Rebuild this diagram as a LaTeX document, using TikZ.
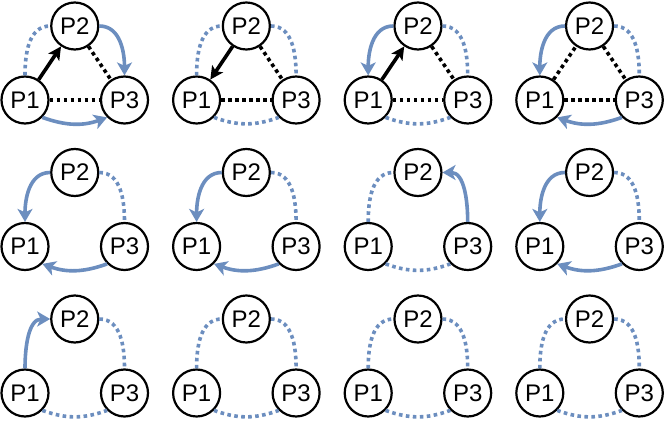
\documentclass[tikz,border=0pt]{standalone}
\usepackage{fontspec}
\setmainfont{Liberation Sans}
\usetikzlibrary{arrows.meta}
\definecolor{arcblue}{HTML}{6C8EBF}

\begin{document}
\begin{tikzpicture}[x=1pt,y=1pt,
  proc/.style={circle,draw,line width=2.2pt,minimum size=47pt,inner sep=0pt,
    font=\fontsize{24}{24}\selectfont},
  kdot/.style={line width=3.6pt,dash pattern=on 3.6pt off 3.4pt},
  karr/.style={line width=3.6pt,-{Stealth[length=13pt,width=13pt,inset=3pt]}},
  bdot/.style={arcblue,line width=3.6pt,dash pattern=on 3.6pt off 3.4pt},
  barr/.style={arcblue,line width=3.6pt,-{Stealth[length=13pt,width=15pt,inset=3.5pt]}}]
\useasboundingbox (0,0) rectangle (664,-423);

% the twelve panels, rows of four
\foreach \n [count=\k from 0] in {a,b,c,d,e,f,g,h,i,j,k,l}
{
    \pgfmathsetmacro{\cx}{25+171.6*mod(\k,4)}
    \pgfmathsetmacro{\cy}{-100-146.5*floor(\k/4)}
    \node[proc] (\n1) at (\cx,\cy) {P1};
    \node[proc] (\n3) at (\cx+99.5,\cy) {P3};
    \node[proc] (\n2) at (\cx+49.75,\cy+74) {P2};
}

% black edges inside
\foreach \n in {a,b,c,d}
{
    \draw[kdot] (\n1) -- (\n3);
    \draw[kdot] (\n2) -- (\n3);
}
\draw[kdot] (d1) -- (d2);
\foreach \n in {a,c}
{
    \draw[karr] (\n1) -- (\n2);
}
\draw[karr] (b2) -- (b1);

% blue arcs, left side
\foreach \n in {a,b,g,j,k,l}
{
    \draw[bdot] (\n1.north) to[out=90,in=180] (\n2.west);
}
\foreach \n in {c,d,e,f,h}
{
    \draw[barr] (\n2.west) to[out=180,in=90] (\n1.north);
}
\draw[barr] (i1.north) to[out=90,in=180] (i2.west);

% blue arcs, right side
\foreach \n in {b,c,d,e,f,h,i,j,k,l}
{
    \draw[bdot] (\n2.east) to[out=0,in=90] (\n3.north);
}
\draw[barr] (a2.east) to[out=0,in=90] (a3.north);
\draw[barr] (g3.north) to[out=90,in=0] (g2.east);

% blue arcs, bottom
\foreach \n in {b,c,g,i,j,k,l}
{
    \draw[bdot] (\n1.-45) to[out=-20,in=-160] (\n3.-135);
}
\draw[barr] (a1.-45) to[out=-20,in=-160] (a3.-135);
\foreach \n in {d,e,f,h}
{
    \draw[barr] (\n3.-135) to[out=-160,in=-20] (\n1.-45);
}
\end{tikzpicture}
\end{document}
